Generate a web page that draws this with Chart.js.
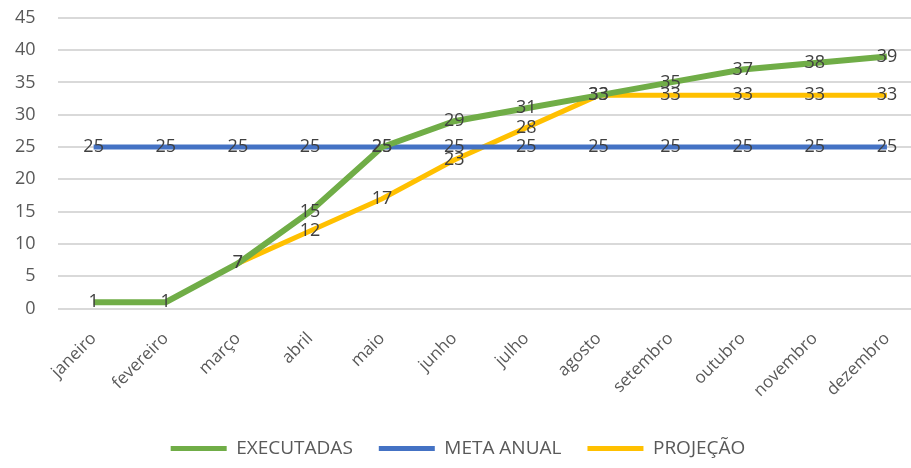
<!DOCTYPE html>
<html lang="pt">
<head>
  <meta charset="UTF-8">
  <title>Executadas x Meta</title>
  <script src="https://cdn.jsdelivr.net/npm/chart.js"></script>
  <style>
    body {
      margin: 0;
      padding: 0;
      background: #ffffff;
      overflow: hidden;
    }
    /* the plot runs past the right edge, like the cropped original */
    .chart-box {
      position: relative;
      top: -15px;
      left: -22px;
      width: 951px;
      height: 483px;
    }
  </style>
</head>
<body>
  <div class="chart-box">
    <canvas id="metaChart"></canvas>
  </div>

  <script>
    const meses = ['janeiro', 'fevereiro', 'março', 'abril', 'maio', 'junho',
                   'julho', 'agosto', 'setembro', 'outubro', 'novembro', 'dezembro'];
    const executadas = [1, 1, 7, 15, 25, 29, 31, 33, 35, 37, 38, 39];
    const metaAnual = [25, 25, 25, 25, 25, 25, 25, 25, 25, 25, 25, 25];
    const projecao = [null, null, 7, 12, 17, 23, 28, 33, 33, 33, 33, 33];
    const yTicks = [0, 5, 10, 15, 20, 25, 30, 35, 40, 45];

    const fontFamily = '"Open Sans", sans-serif';

    // draws the value of each point on top of it
    const valueLabels = {
      id: 'valueLabels',
      afterDatasetsDraw(chart) {
        const ctx = chart.ctx;
        ctx.save();
        ctx.font = '18px ' + fontFamily;
        ctx.fillStyle = '#404040';
        ctx.textAlign = 'center';
        ctx.textBaseline = 'middle';
        chart.data.datasets.forEach((ds, i) => {
          const meta = chart.getDatasetMeta(i);
          meta.data.forEach((pt, j) => {
            const v = ds.data[j];
            if (v === null) return;
            ctx.fillText(String(v), pt.x, pt.y);
          });
        });
        ctx.restore();
      }
    };

    const ctx = document.getElementById('metaChart').getContext('2d');
    new Chart(ctx, {
      type: 'line',
      data: {
        labels: meses,
        datasets: [
          {
            label: 'EXECUTADAS',
            data: executadas,
            borderColor: '#70ad47',
            backgroundColor: '#70ad47',
            borderWidth: 6,
            pointRadius: 0,
            tension: 0
          },
          {
            label: 'META ANUAL',
            data: metaAnual,
            borderColor: '#4472c4',
            backgroundColor: '#4472c4',
            borderWidth: 5,
            pointRadius: 0,
            tension: 0
          },
          {
            label: 'PROJEÇÃO',
            data: projecao,
            borderColor: '#ffc000',
            backgroundColor: '#ffc000',
            borderWidth: 5,
            pointRadius: 0,
            tension: 0
          }
        ]
      },
      options: {
        responsive: true,
        maintainAspectRatio: false,
        animation: false,
        layout: {
          padding: { left: 15, right: 6, top: -10, bottom: 0 }
        },
        plugins: {
          tooltip: { enabled: false },
          legend: {
            position: 'bottom',
            labels: {
              font: { size: 19, family: fontFamily },
              color: '#595959',
              boxWidth: 56,
              boxHeight: 5,
              padding: 26,
              generateLabels(chart) {
                const items = Chart.defaults.plugins.legend.labels.generateLabels(chart);
                items.forEach(it => {
                  it.lineWidth = 0;
                  it.fillStyle = it.strokeStyle;
                });
                return items;
              }
            }
          }
        },
        scales: {
          x: {
            offset: true,
            grid: { display: false },
            border: { display: false },
            afterFit(scale) {
              scale.paddingLeft = 0;
              scale.paddingRight = 0;
            },
            ticks: {
              color: '#595959',
              font: { size: 17, family: fontFamily },
              minRotation: 45,
              maxRotation: 45,
              padding: 12
            }
          },
          y: {
            min: 0,
            max: 45,
            afterBuildTicks(scale) {
              scale.ticks = yTicks.map(v => ({ value: v }));
            },
            grid: { color: '#d9d9d9', lineWidth: 2, drawTicks: false },
            border: { display: false },
            ticks: {
              color: '#595959',
              font: { size: 18, family: fontFamily },
              padding: 22
            }
          }
        }
      },
      plugins: [valueLabels]
    });
  </script>
</body>
</html>
